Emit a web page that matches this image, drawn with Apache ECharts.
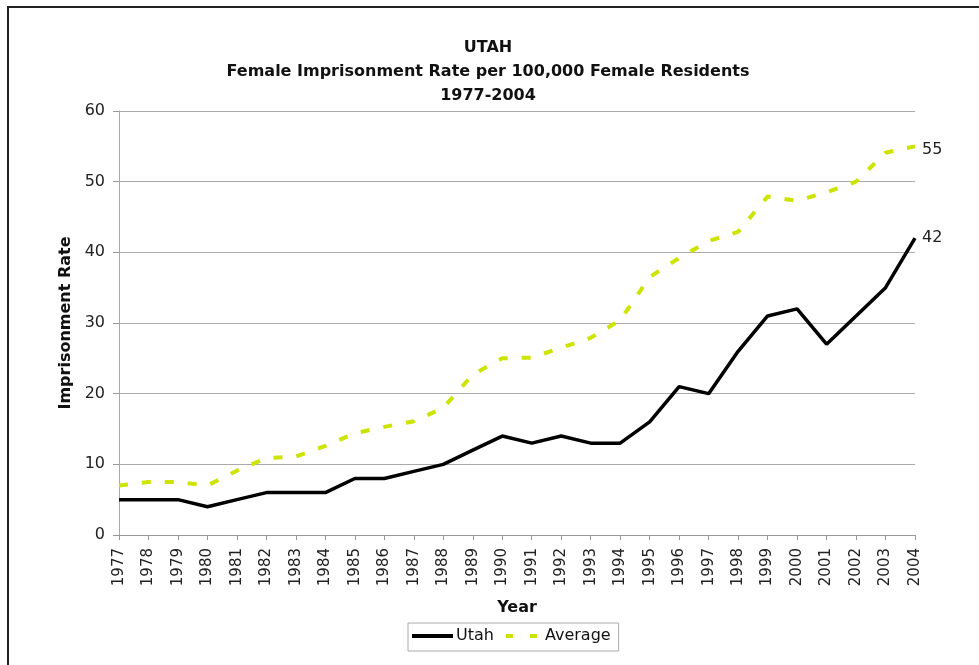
<!DOCTYPE html>
<html>
<head>
<meta charset="utf-8">
<script src="https://cdn.jsdelivr.net/npm/echarts@6/dist/echarts.min.js"></script>
<style>
  html, body { margin: 0; padding: 0; background: #fff; }
  #chart { width: 979px; height: 665px; }
</style>
</head>
<body>
<div id="chart"></div>
<script>
// female imprisonment rate, Utah vs average
var years = ['1977','1978','1979','1980','1981','1982','1983','1984','1985','1986',
    '1987','1988','1989','1990','1991','1992','1993','1994','1995','1996',
    '1997','1998','1999','2000','2001','2002','2003','2004']
var utah = [5, 5, 5, 4, 5, 6, 6, 6, 8, 8, 9, 10, 12, 14, 13, 14, 13, 13, 16, 21,
    20, 26, 31, 32, 27, 31, 35, 42]
var average = [7, 7.5, 7.5, 7, 9.1, 10.9, 11.1, 12.6, 14.4, 15.3, 16.1, 18, 22.7, 25,
    25.1, 26.5, 27.9, 30.4, 36.5, 39.2, 41.6, 42.9, 47.9, 47.3, 48.5, 50, 54.1, 55]
var yTicks = [0, 10, 20, 30, 40, 50, 60]

var font = 'DejaVu Sans'
var green = '#cde300'

var chart = echarts.init(document.getElementById('chart'))
var option = {
    backgroundColor: '#fff',
    animation: false,
    textStyle: { fontFamily: font },
    title: {
        text: 'UTAH\nFemale Imprisonment Rate per 100,000 Female Residents\n1977-2004',
        left: 483,
        textAlign: 'center',
        top: 31,
        textStyle: {
            fontFamily: font,
            fontSize: 16,
            fontWeight: 'bold',
            color: '#111',
            lineHeight: 24
        }
    },
    legend: {
        data: [
            { name: 'Utah', icon: 'rect' },
            { name: 'Average', icon: 'path://M0,0H7V4H0Z M24,0H31V4H24Z' }
        ],
        left: 408,
        top: 623,
        padding: [5, 8, 7, 4],
        itemGap: 12,
        itemWidth: 41,
        itemHeight: 4,
        borderColor: '#aaa',
        borderWidth: 1,
        textStyle: { fontFamily: font, fontSize: 16, color: '#111', padding: [0, 0, 0, -2] }
    },
    grid: {
        left: 119,
        right: 64,
        top: 111,
        bottom: 130
    },
    xAxis: {
        type: 'category',
        data: years,
        boundaryGap: false,
        name: 'Year',
        nameLocation: 'middle',
        nameGap: 65,
        nameTextStyle: { fontFamily: font, fontSize: 16, fontWeight: 'bold', color: '#111' },
        axisLine: { lineStyle: { color: '#999' } },
        axisTick: { show: true, length: 5, lineStyle: { color: '#999' } },
        axisLabel: {
            rotate: 90,
            interval: 0,
            margin: 13,
            fontSize: 15,
            color: '#222'
        }
    },
    yAxis: {
        type: 'value',
        min: yTicks[0],
        max: yTicks[yTicks.length - 1],
        interval: 10,
        name: 'Imprisonment Rate',
        nameLocation: 'middle',
        nameGap: 43,
        nameTextStyle: { fontFamily: font, fontSize: 16, fontWeight: 'bold', color: '#111' },
        axisLine: { show: true, lineStyle: { color: '#aaa' } },
        axisTick: { show: true, length: 6, lineStyle: { color: '#999' } },
        axisLabel: { fontSize: 16, color: '#222', margin: 14 },
        splitLine: { lineStyle: { color: '#aaa', width: 1 } }
    },
    series: [{
        name: 'Utah',
        type: 'line',
        data: utah,
        symbol: 'none',
        lineStyle: { color: '#000', width: 3.5 },
        itemStyle: { color: '#000' },
        endLabel: {
            show: true,
            formatter: function (p) { return p.value },
            fontSize: 16,
            color: '#222',
            distance: 7
        }
    }, {
        name: 'Average',
        type: 'line',
        data: average,
        symbol: 'none',
        lineStyle: { color: green, width: 4, type: [9, 14] },
        itemStyle: { color: green },
        endLabel: {
            show: true,
            formatter: function (p) { return p.value },
            fontSize: 16,
            color: '#222',
            distance: 7,
            offset: [0, 4]
        }
    }],
    graphic: [{
        type: 'polyline',
        shape: { points: [[8, 665], [8, 7], [979, 7]] },
        style: { stroke: '#222', lineWidth: 2, fill: null }
    }]
}
chart.setOption(option)
</script>
</body>
</html>
